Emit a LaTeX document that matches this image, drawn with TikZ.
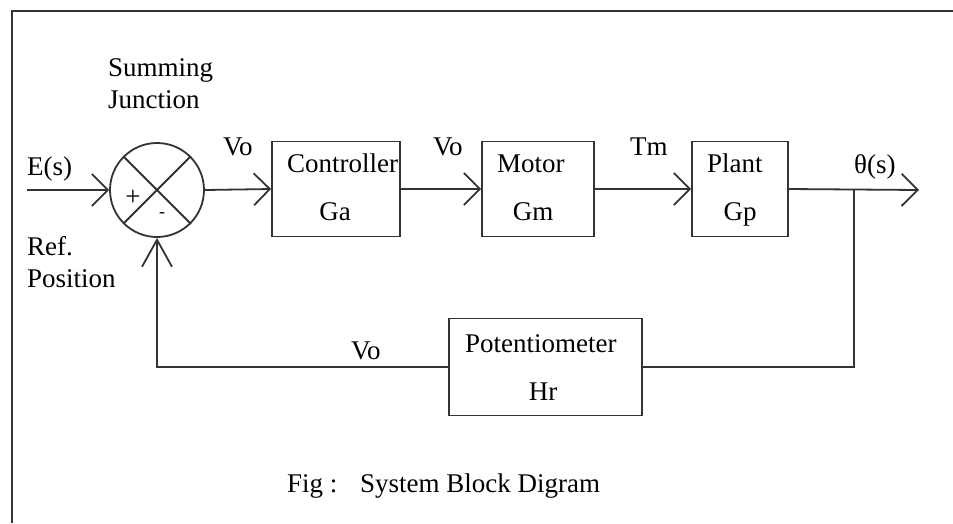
\documentclass[tikz,border=0pt]{standalone}
\usepackage{fontspec}
\setmainfont{Liberation Serif}
\usepackage{tikz}
\usetikzlibrary{arrows.meta}

\tikzset{
	line/.style={line width=1.8pt, draw=black!80},
	blockbox/.style={line, draw, minimum height=95pt, inner sep=0pt},
	barb/.style={line, -{Straight Barb[length=16pt, width=32pt]}},
	tallbarb/.style={line, -{Straight Barb[length=27pt, width=30pt]}},
	lbl/.style={anchor=base west, inner sep=0pt, font=\fontsize{27}{32}\selectfont},
	clbl/.style={lbl, anchor=base}
}

\begin{document}
\begin{tikzpicture}[x=1pt, y=-1pt]
				\useasboundingbox (0,0) rectangle (953,523);
				\draw[line] (953,11) -- (12,11) -- (12,523);
				
				\node[line, draw, circle, minimum size=94pt, inner sep=0pt] (sum) at (157,190) {};
				\draw[line] (sum.north west) -- (sum.south east);
				\draw[line] (sum.north east) -- (sum.south west);
				\node[font=\fontsize{27}{32}\selectfont, inner sep=0pt] (plus) at (133,198) {+};
				\node[font=\fontsize{18}{22}\selectfont, inner sep=0pt] (minus) at (162,215) {-};
				
				\node[blockbox, minimum width=128pt] (ctrl) at (336,189) {};
				\node[blockbox, minimum width=112pt] (motor) at (538,189) {};
				\node[blockbox, minimum width=96pt] (plant) at (740,189) {};
				\node[blockbox, minimum width=193pt, minimum height=97pt] (pot) at (545.5,367) {};
				
				\coordinate (ein) at (27,190);
				\coordinate (branch) at (854,190);
				\coordinate (out) at (919,190);
				
				\draw[barb] (ein) -- (sum.west);
				\draw[barb] (sum.east) -- (ctrl.west);
				\draw[barb] (ctrl.east) -- (motor.west);
				\draw[barb] (motor.east) -- (plant.west);
				\draw[barb] (plant.east) -- (out);
				\draw[line] (branch) |- (pot.east);
				\draw[tallbarb] (pot.west) -| (sum.south);
				
				\node[lbl] (sumtxt) at (108,76) {Summing};
				\node[lbl] (juntxt) at (108,108) {Junction};
				\node[lbl] (es) at (27,175) {E(s)};
				\node[lbl] (ref) at (27,255) {Ref.};
				\node[lbl] (pos) at (27,287) {Position};
				\node[lbl] (vo1) at (223,155) {Vo};
				\node[lbl] (vo2) at (433,155) {Vo};
				\node[lbl] (tm) at (630,155) {Tm};
				\node[lbl] (theta) at (854,173) {θ(s)};
				\node[lbl] (vo3) at (351,359) {Vo};
				
				\node[lbl] (ctrltxt) at (287,172) {Controller};
				\node[clbl] (ga) at (335,220) {Ga};
				\node[lbl] (motortxt) at (497,172) {Motor};
				\node[clbl] (gm) at (533,220) {Gm};
				\node[lbl] (planttxt) at (707,172) {Plant};
				\node[clbl] (gp) at (740,220) {Gp};
				\node[lbl] (pottxt) at (465,352) {Potentiometer};
				\node[clbl] (hr) at (543,400) {Hr};
				
				\node[lbl] (fig) at (287,492) {Fig :};
				\node[lbl] (caption) at (360,492) {System Block Digram};
			\end{tikzpicture}
\end{document}
